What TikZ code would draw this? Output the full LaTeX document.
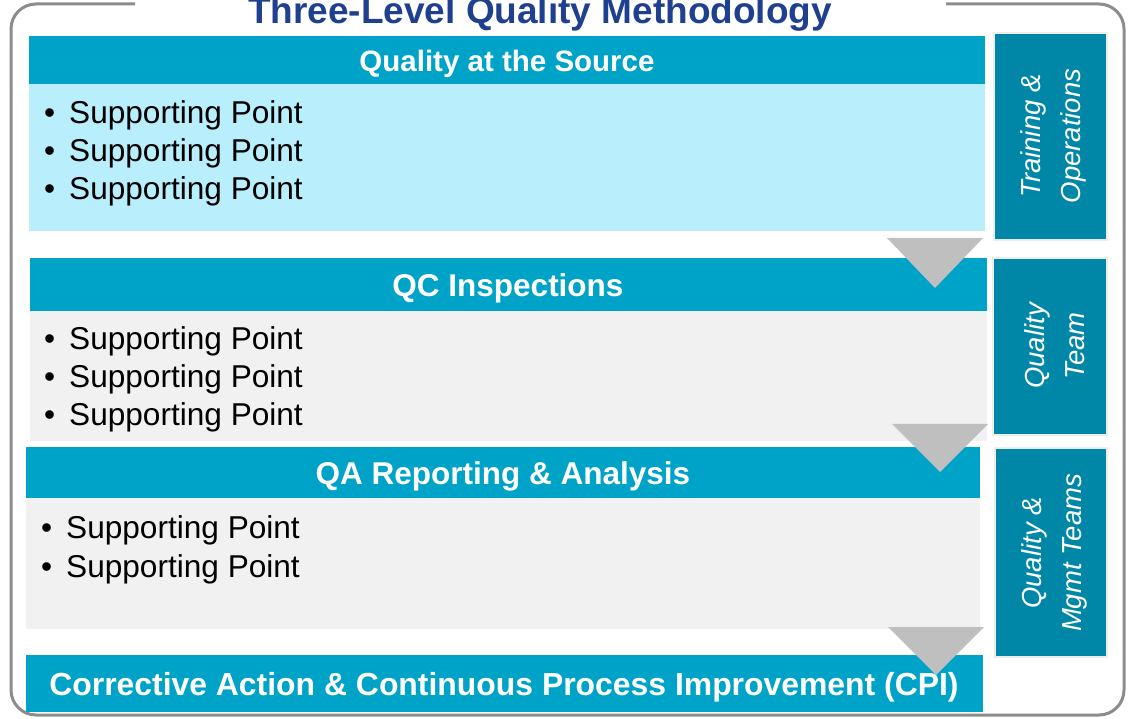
\documentclass[tikz,border=0pt]{standalone}
\usepackage{fontspec}
\setmainfont{Liberation Sans}

\definecolor{hdrblue}{RGB}{0,163,200}
\definecolor{lightcyan}{RGB}{185,239,252}
\definecolor{lightgray}{RGB}{241,241,241}
\definecolor{sideteal}{RGB}{0,134,167}
\definecolor{arrowgray}{RGB}{191,191,191}
\definecolor{framegray}{RGB}{140,140,140}
\definecolor{titleblue}{RGB}{31,63,143}

\tikzset{
  hdr/.style={text=white, inner sep=0pt, text height=22.5pt, text depth=0pt,
    font=\bfseries\fontsize{31.5}{38}\selectfont},
  pnt/.style={anchor=base west, inner sep=0pt, font=\fontsize{31.6}{38}\selectfont},
  side/.style={fill=sideteal, draw=black!7, line width=1.5pt},
  sidetext/.style={rotate=90, text=white, align=center,
    font=\itshape\fontsize{27.5}{40}\selectfont},
  tri/.style={fill=arrowgray}
}

\begin{document}
\begin{tikzpicture}[x=1pt, y=-1pt]
\useasboundingbox (0,0) rectangle (1128,719);

% frame and title
\draw[framegray, line width=3pt, rounded corners=25pt](135,4)--(11,4)--(11,715)--(1124,715)--(1124,4)--(946,4);
\node[anchor=base, text=titleblue, font=\bfseries\fontsize{37}{40}\selectfont](title) at (540,24){Three-Level Quality Methodology};

% bands
\fill[hdrblue](29,36) rectangle (985,84);
\fill[lightcyan](29,84) rectangle (985,231);
\fill[hdrblue](30,258) rectangle (987,311);
\fill[lightgray](30,311) rectangle (987,441);
\fill[hdrblue](26,447) rectangle (980,498);
\fill[lightgray](26,498) rectangle (980,629);
\fill[hdrblue](26,655) rectangle (983,712);

% side boxes
\draw[side](994,33) rectangle (1107,240);
\draw[side](993,258) rectangle (1107,435);
\draw[side](995,448) rectangle (1107,657);

% arrows between levels
\fill[tri](887,238)--(983,238)--(935,288)--cycle;
\fill[tri](892,424)--(988,424)--(940,472)--cycle;
\fill[tri](888,627)--(984,627)--(936,675)--cycle;

% headers
\node[hdr, font=\bfseries\fontsize{29.5}{36}\selectfont](source) at (507,60){Quality at the Source};
\node[hdr](qc) at (508,285){QC Inspections};
\node[hdr](qa) at (503,473){QA Reporting \& Analysis};
\node[hdr, font=\bfseries\fontsize{31.9}{38}\selectfont](cpi) at (504,684){Corrective Action \& Continuous Process Improvement (CPI)};

% supporting points
\foreach \y [count=\i] in {124,162,200}
  \node[pnt](source\i) at (44,\y){\makebox[25pt][l]{•}Supporting Point};
\foreach \y [count=\i] in {350,388,426}
  \node[pnt](qc\i) at (44,\y){\makebox[25pt][l]{•}Supporting Point};
\foreach \y [count=\i] in {538,577}
  \node[pnt](qa\i) at (41,\y){\makebox[25pt][l]{•}Supporting Point};

% side labels
\node[sidetext](train) at (1053,136){Training \&\\Operations};
\node[sidetext](team) at (1055,346){Quality\\Team};
\node[sidetext](mgmt) at (1054,553){Quality \&\\Mgmt Teams};

\end{tikzpicture}
\end{document}
